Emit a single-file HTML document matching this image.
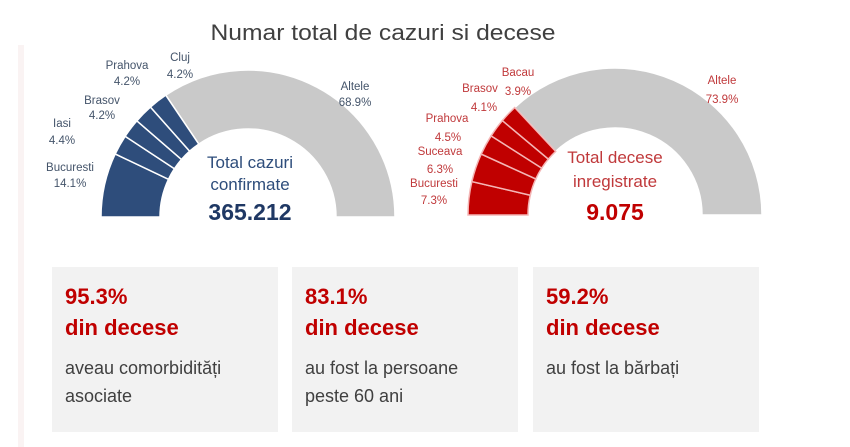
<!DOCTYPE html>
<html><head><meta charset="utf-8"><style>
html,body{margin:0;padding:0;background:#fff;}
body{width:850px;height:447px;overflow:hidden;position:relative;font-family:"Liberation Sans",sans-serif;}
.box{position:absolute;top:267px;width:226px;height:165px;background:#f2f2f2;}
.box .p{position:absolute;left:13px;top:14px;color:#c00000;font-weight:bold;font-size:22px;line-height:31px;}
.box .t{position:absolute;left:13px;top:87px;color:#404040;font-size:18px;line-height:28px;}
</style></head><body>
<div style="position:absolute;left:18px;top:45px;width:6px;height:402px;background:#faf3f3"></div>
<svg id="s" width="850" height="260" style="position:absolute;left:0;top:0" font-family="Liberation Sans, sans-serif">
<text x="383" y="40" text-anchor="middle" font-size="22" fill="#404040" textLength="345" lengthAdjust="spacingAndGlyphs">Numar total de cazuri si decese</text>
<g id="g1"></g><g id="g2"></g>
<g font-size="11.5" fill="#44546a" text-anchor="middle">
<text x="70" y="171">Bucuresti</text><text x="70" y="187">14.1%</text>
<text x="62" y="127">Iasi</text><text x="62" y="144">4.4%</text>
<text x="102" y="104">Brasov</text><text x="102" y="119">4.2%</text>
<text x="127" y="69">Prahova</text><text x="127" y="85">4.2%</text>
<text x="180" y="61">Cluj</text><text x="180" y="78">4.2%</text>
<text x="355" y="90">Altele</text><text x="355" y="106">68.9%</text>
</g>
<g text-anchor="middle" fill="#1f3864">
<text x="250" y="168" font-size="17" fill="#2e4d7b">Total cazuri</text>
<text x="250" y="190" font-size="17" fill="#2e4d7b">confirmate</text>
<text x="250" y="220" font-size="23" font-weight="bold">365.212</text>
</g>
<g font-size="11.5" fill="#c0393b" text-anchor="middle">
<text x="518" y="76">Bacau</text>
<text x="480" y="92">Brasov</text><text x="518" y="95">3.9%</text>
<text x="484" y="111">4.1%</text>
<text x="447" y="122">Prahova</text><text x="448" y="141">4.5%</text>
<text x="440" y="155">Suceava</text><text x="440" y="173">6.3%</text>
<text x="434" y="187">Bucuresti</text><text x="434" y="204">7.3%</text>
<text x="722" y="84">Altele</text><text x="722" y="103">73.9%</text>
</g>
<g text-anchor="middle" fill="#c00000">
<text x="615" y="163" font-size="17" fill="#c0393b">Total decese</text>
<text x="615" y="187" font-size="17" fill="#c0393b">inregistrate</text>
<text x="615" y="220" font-size="23" font-weight="bold">9.075</text>
</g>
</svg>
<div class="box" style="left:52px"><div class="p">95.3%<br>din decese</div><div class="t">aveau comorbidități<br>asociate</div></div>
<div class="box" style="left:292px"><div class="p">83.1%<br>din decese</div><div class="t">au fost la persoane<br>peste 60 ani</div></div>
<div class="box" style="left:533px"><div class="p">59.2%<br>din decese</div><div class="t">au fost la bărbați</div></div>
<script>
function arcs(gid,cx,cy,R,r,vals,col,sep,grey){
  var g=document.getElementById(gid),a=0,h="";
  function pt(rad,deg){var t=deg*Math.PI/180;return (cx-rad*Math.cos(t)).toFixed(2)+","+(cy-rad*Math.sin(t)).toFixed(2);}
  function seg(a0,a1,fill,stroke){var l=(a1-a0)>180?1:0;
    return '<path d="M'+pt(R,a0)+' A'+R+','+R+' 0 '+l+' 1 '+pt(R,a1)+' L'+pt(r,a1)+' A'+r+','+r+' 0 '+l+' 0 '+pt(r,a0)+' Z" fill="'+fill+'" stroke="'+stroke+'" stroke-width="1.5"/>';}
  var tot=0;vals.forEach(function(v){tot+=v;});
  h+=seg(tot*1.8,180,grey,"#fff");
  vals.forEach(function(v){h+=seg(a,a+v*1.8,col,sep);a+=v*1.8;});
  g.innerHTML=h;
}
arcs("g1",248,217,147,88,[14.1,4.4,4.2,4.2,4.2],"#2e4d7b","#ffffff","#c9c9c9");
arcs("g2",615,215,147,87,[7.3,6.3,4.5,4.1,3.9],"#c00000","#f4b6b6","#c9c9c9");
</script>
</body></html>
